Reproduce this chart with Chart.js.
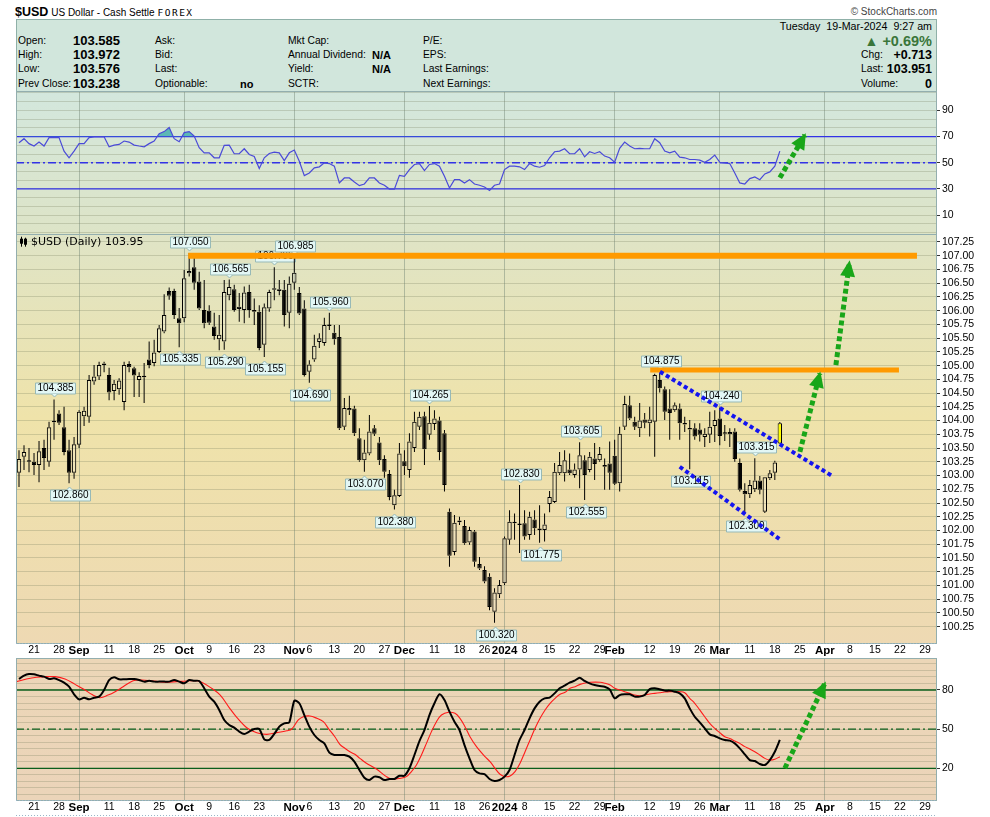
<!DOCTYPE html>
<html>
<head>
<meta charset="utf-8">
<script src="https://cdn.jsdelivr.net/npm/chart.js@4.4.1/dist/chart.umd.min.js"></script>
<style>
  body { margin: 0; background: #fff; }
  #wrap { position: relative; width: 990px; height: 817px; overflow: hidden; font-family: "Liberation Sans", Arial, sans-serif; color: #000; }
  .t { position: absolute; white-space: nowrap; line-height: 14px; height: 14px; font-size: 10.3px; }
  .v { font-weight: bold; font-size: 13px; }
  .bb { font-weight: bold; font-size: 11px; }
  .rv { font-weight: bold; font-size: 12.5px; }
  #info { position: absolute; left: 16px; top: 19px; width: 921px; height: 73px; box-sizing: border-box; border: 1px solid #8fb0a8; background: #d1e6dc; }
  canvas { position: absolute; left: 0; }
</style>
</head>
<body>
<div id="wrap">
  <div class="t" style="left:15px;top:5px;"><span style="font-weight:bold;font-size:12.5px">$USD</span> <span style="font-size:10px">US Dollar - Cash Settle</span> <span style="font-family:'DejaVu Sans Mono';font-size:9.5px;letter-spacing:1.5px">FOREX</span></div>
  <div class="t" style="right:53px;top:5px;font-size:10px;color:#444">© StockCharts.com</div>

  <div id="info"></div>
  <!-- 1열 -->
  <div class="t" style="left:18px;top:34px">Open:</div>
  <div class="t" style="left:18px;top:48px">High:</div>
  <div class="t" style="left:18px;top:62px">Low:</div>
  <div class="t" style="left:18px;top:77px">Prev Close:</div>
  <div class="t v" style="left:73px;top:34px">103.585</div>
  <div class="t v" style="left:73px;top:48px">103.972</div>
  <div class="t v" style="left:73px;top:62px">103.576</div>
  <div class="t v" style="left:73px;top:77px">103.238</div>
  <!-- 2열 -->
  <div class="t" style="left:155px;top:34px">Ask:</div>
  <div class="t" style="left:155px;top:48px">Bid:</div>
  <div class="t" style="left:155px;top:62px">Last:</div>
  <div class="t" style="left:155px;top:77px">Optionable:</div>
  <div class="t bb" style="left:240px;top:77px">no</div>
  <!-- 3열 -->
  <div class="t" style="left:288px;top:34px">Mkt Cap:</div>
  <div class="t" style="left:288px;top:48px">Annual Dividend:</div>
  <div class="t" style="left:288px;top:62px">Yield:</div>
  <div class="t" style="left:288px;top:77px">SCTR:</div>
  <div class="t bb" style="left:372px;top:48px">N/A</div>
  <div class="t bb" style="left:372px;top:62px">N/A</div>
  <!-- 4열 -->
  <div class="t" style="left:423px;top:34px">P/E:</div>
  <div class="t" style="left:423px;top:48px">EPS:</div>
  <div class="t" style="left:423px;top:62px">Last Earnings:</div>
  <div class="t" style="left:423px;top:77px">Next Earnings:</div>
  <!-- 오른쪽 요약 -->
  <div class="t" style="right:58px;top:19px;font-size:10.7px">Tuesday&nbsp;&nbsp;19-Mar-2024&nbsp;&nbsp;9:27 am</div>
  <div class="t" style="right:58px;top:33px;height:16px;line-height:16px;font-weight:bold;font-size:14.5px;color:#3a763a"><span style="font-size:14px">&#9650;</span> +0.69%</div>
  <div class="t" style="left:861px;top:48px">Chg:</div>
  <div class="t rv" style="right:58px;top:48px">+0.713</div>
  <div class="t" style="left:861px;top:62px">Last:</div>
  <div class="t rv" style="right:58px;top:62px">103.951</div>
  <div class="t" style="left:861px;top:77px">Volume:</div>
  <div class="t rv" style="right:58px;top:77px">0</div>

  <canvas id="rsi" width="990" height="146" style="top:89px"></canvas>
  <canvas id="price" width="990" height="428" style="top:232px"></canvas>
  <canvas id="stoch" width="990" height="161" style="top:656px"></canvas>
</div>

<script>
// ===== 데이터 =====
// x축은 거래일 번호: 0 = 2023-08-21 (월), 주말/12-25/01-01 제외
const FIRST_DAY = -3;

const opens = [
  103.05, 103.34, 103.26, 103.25, 103.19, 103.50, 103.25, 103.99, 104.13, 103.88,
  103.46, 103.05, 103.56, 104.08, 104.07, 104.71, 104.80, 105.01, 104.83, 104.54,
  104.57, 104.34, 105.03, 104.95, 104.74, 104.81, 105.11, 105.05, 105.25, 105.62,
  106.36, 106.36, 105.86, 105.86, 106.68, 106.79, 106.53, 106.01, 106.00, 105.71,
  105.48, 105.44, 106.28, 106.39, 106.07, 106.01, 106.34, 106.01, 105.98, 105.38,
  106.04, 106.41, 106.39, 106.38, 105.96, 106.51, 106.32, 106.04, 104.89, 105.11,
  105.43, 105.41, 105.74, 105.60, 105.52, 103.89, 104.19, 104.22, 103.68, 103.28,
  103.40, 103.86, 103.60, 103.30, 103.03, 102.46, 102.63, 103.26, 103.10, 103.50,
  103.89, 104.08, 103.74, 103.94, 104.00, 103.77, 102.34, 101.61, 102.18, 102.08,
  101.78, 101.98, 101.39, 101.28, 101.16, 100.52, 100.84, 101.04, 101.83, 102.15,
  102.12, 102.13, 101.92, 102.20, 102.03, 102.01, 102.48, 102.52, 103.04, 103.04,
  103.11, 103.01, 103.11, 103.28, 103.10, 103.31, 103.28, 103.16, 103.22, 103.36,
  102.86, 103.89, 104.28, 103.98, 103.86, 104.02, 103.95, 103.98, 104.74, 104.57,
  104.22, 104.19, 104.22, 103.95, 103.86, 103.86, 103.84, 103.70, 103.74, 103.90,
  104.04, 103.77, 103.79, 103.80, 103.23, 102.72, 102.66, 102.75, 102.91, 102.34,
  102.95, 103.05, 103.585
];
const highs = [
  103.46, 103.55, 103.50, 103.41, 103.63, 103.65, 103.98, 104.385, 104.19, 104.25,
  103.65, 103.70, 104.19, 104.25, 104.83, 105.01, 105.07, 105.07, 104.96, 104.74,
  104.77, 105.07, 105.08, 104.98, 104.88, 105.05, 105.44, 105.47, 105.74, 106.30,
  106.42, 106.40, 106.05, 106.74, 107.05, 106.96, 106.71, 106.56, 106.10, 105.96,
  105.92, 106.56, 106.565, 106.47, 106.32, 106.44, 106.47, 106.22, 106.10, 106.13,
  106.38, 106.79, 106.56, 106.56, 106.62, 106.985, 106.43, 106.19, 105.10, 105.56,
  105.59, 105.87, 105.96, 105.74, 105.74, 104.41, 104.45, 104.27, 103.86, 103.65,
  104.10, 103.92, 103.70, 103.37, 103.10, 102.74, 103.59, 103.46, 103.77, 104.16,
  104.16, 104.16, 104.265, 104.19, 104.07, 103.83, 102.40, 102.28, 102.25, 102.19,
  102.07, 102.01, 101.52, 101.35, 101.22, 100.95, 101.10, 101.89, 102.37, 102.31,
  102.83, 102.37, 102.34, 102.37, 102.46, 102.31, 102.72, 103.23, 103.43, 103.46,
  103.40, 103.22, 103.605, 103.37, 103.43, 103.59, 103.52, 103.31, 103.62, 103.65,
  103.89, 104.45, 104.45, 104.07, 104.32, 104.14, 104.25, 104.85, 104.875, 104.62,
  104.57, 104.33, 104.31, 104.07, 104.01, 103.95, 103.95, 103.86, 104.16, 104.19,
  104.24, 103.92, 103.86, 103.86, 103.31, 102.86, 102.92, 103.315, 102.99, 102.97,
  103.10, 103.27, 103.972
];
const lows = [
  102.79, 103.10, 103.06, 103.01, 102.88, 103.10, 103.16, 103.65, 103.92, 103.37,
  102.86, 102.94, 103.50, 103.90, 103.96, 104.65, 104.74, 104.88, 104.37, 104.37,
  104.47, 104.19, 104.88, 104.43, 104.43, 104.32, 104.95, 104.99, 105.23, 105.59,
  106.20, 105.85, 105.335, 105.79, 106.62, 106.38, 106.01, 105.68, 105.74, 105.47,
  105.28, 105.29, 106.19, 105.98, 105.80, 105.77, 105.87, 105.74, 105.28, 105.155,
  105.98, 106.19, 106.28, 105.71, 105.68, 106.38, 105.92, 104.80, 104.69, 105.07,
  105.32, 105.36, 105.65, 105.38, 103.83, 103.83, 104.10, 103.72, 103.25, 103.07,
  103.37, 103.72, 103.19, 102.96, 102.55, 102.38, 102.61, 103.01, 102.96, 103.43,
  103.83, 103.19, 103.65, 103.83, 103.28, 102.71, 101.34, 101.55, 102.10, 101.74,
  101.74, 101.34, 101.28, 101.04, 100.55, 100.32, 100.77, 101.01, 101.74, 101.83,
  101.59, 101.83, 101.83, 101.92, 101.775, 101.80, 102.33, 102.50, 103.01, 102.89,
  103.01, 102.96, 102.77, 102.555, 103.06, 102.92, 103.25, 102.74, 102.74, 102.83,
  102.71, 103.83, 104.01, 103.83, 103.70, 103.86, 103.71, 103.34, 104.51, 104.01,
  103.65, 104.16, 103.65, 103.79, 103.115, 103.65, 103.62, 103.52, 103.59, 103.61,
  103.55, 103.63, 103.52, 103.25, 102.71, 102.30, 102.59, 102.70, 102.66, 102.32,
  102.92, 102.92, 103.576
];
const closes = [
  103.30, 103.43, 103.25, 103.19, 103.44, 103.32, 103.88, 103.97, 103.96, 103.43,
  103.05, 103.57, 104.16, 104.18, 104.74, 104.80, 105.01, 105.04, 104.51, 104.67,
  104.73, 105.01, 104.97, 104.82, 104.81, 104.79, 105.01, 105.24, 105.68, 105.92,
  106.27, 105.92, 105.77, 106.59, 106.72, 106.51, 106.04, 105.77, 105.78, 105.54,
  105.56, 106.34, 106.43, 106.01, 106.03, 106.33, 106.01, 105.98, 105.32, 106.06,
  106.34, 106.38, 106.36, 105.92, 106.49, 106.69, 105.95, 104.83, 105.02, 105.36,
  105.50, 105.74, 105.72, 105.48, 103.86, 104.23, 104.23, 103.77, 103.28, 103.42,
  103.80, 103.76, 103.28, 103.07, 102.61, 102.64, 103.40, 103.17, 103.62, 103.98,
  104.07, 103.48, 103.96, 104.04, 103.43, 102.83, 101.54, 102.14, 102.15, 101.77,
  102.01, 101.43, 101.31, 101.07, 100.61, 100.87, 101.01, 101.86, 102.16, 102.13,
  102.10, 101.89, 102.25, 102.04, 102.01, 102.11, 102.61, 103.07, 103.19, 103.28,
  103.04, 103.11, 103.37, 103.01, 103.34, 103.21, 103.39, 103.19, 103.05, 102.85,
  103.76, 104.30, 104.04, 103.89, 104.00, 103.96, 104.02, 104.83, 104.59, 104.16,
  104.14, 104.28, 103.95, 103.93, 103.84, 103.71, 103.74, 103.76, 103.89, 104.01,
  103.72, 103.76, 103.75, 103.30, 102.74, 102.66, 102.83, 102.91, 102.74, 102.97,
  103.04, 103.238, 103.951
];

// RSI(14), 같은 거래일 순서
const rsiValues = [
  65.3, 68.4, 64.6, 62.8, 65.8, 62.8, 69.2, 69.2, 69.2, 58.9,
  53.8, 58.9, 64.6, 64.6, 69.2, 69.8, 69.8, 69.8, 62.2, 63.5,
  64.0, 66.6, 65.8, 63.5, 62.8, 62.2, 64.6, 66.6, 72.2, 73.8,
  76.9, 68.4, 66.1, 73.0, 73.8, 70.4, 61.5, 57.6, 57.6, 53.8,
  53.8, 63.3, 63.5, 56.9, 56.9, 60.7, 56.3, 54.8, 45.6, 53.8,
  57.1, 58.1, 57.6, 51.7, 57.6, 59.7, 51.2, 40.2, 42.2, 46.1,
  46.9, 49.9, 49.4, 47.4, 34.6, 38.4, 38.4, 35.3, 32.5, 33.8,
  38.4, 38.4, 34.6, 32.8, 29.9, 29.9, 40.4, 39.7, 44.8, 48.7,
  49.4, 44.0, 48.7, 49.4, 47.4, 39.7, 30.7, 37.1, 37.1, 34.6,
  37.1, 33.8, 32.8, 31.5, 28.9, 32.8, 33.8, 44.8, 47.4, 47.4,
  46.9, 44.8, 49.4, 47.4, 46.6, 47.9, 53.8, 58.4, 58.9, 60.7,
  56.9, 56.9, 60.7, 54.5, 58.4, 57.1, 58.4, 55.1, 53.8, 50.4,
  61.0, 65.8, 62.8, 60.7, 61.0, 60.7, 60.7, 68.4, 65.3, 58.9,
  57.6, 58.9, 54.3, 53.8, 52.5, 52.5, 52.0, 50.4, 52.5, 55.8,
  50.4, 49.9, 49.4, 42.2, 34.6, 33.8, 37.9, 39.2, 37.1, 41.5,
  43.0, 47.4, 58.9
];

// Slow Stochastic %K, 같은 거래일 순서
const stochK = [
  88.4, 91.0, 92.2, 92.0, 91.0, 90.2, 88.4, 88.9, 87.6, 85.6,
  82.5, 76.7, 72.8, 74.1, 72.8, 74.1, 74.9, 80.0, 87.6, 89.7,
  88.2, 88.2, 88.4, 88.4, 87.6, 86.4, 87.1, 86.4, 86.4, 86.4,
  86.4, 87.6, 86.4, 85.1, 87.6, 87.1, 86.9, 81.3, 74.9, 71.0,
  64.7, 57.0, 53.2, 51.1, 48.1, 46.3, 48.1, 50.1, 50.1, 42.2,
  41.7, 46.3, 51.9, 54.4, 55.2, 71.8, 69.8, 60.8, 51.9, 45.5,
  41.7, 39.1, 32.0, 30.2, 30.2, 30.2, 28.9, 25.1, 18.7, 12.8,
  11.0, 13.6, 13.1, 11.0, 11.8, 11.8, 14.3, 14.3, 20.0, 30.2,
  40.9, 49.3, 60.8, 69.8, 76.7, 72.3, 63.4, 55.7, 49.3, 37.8,
  27.6, 18.7, 16.1, 15.6, 11.8, 10.2, 11.0, 13.6, 18.7, 30.2,
  41.7, 49.3, 58.3, 65.9, 71.0, 73.6, 74.1, 77.4, 81.3, 83.3,
  85.6, 87.1, 89.4, 86.9, 85.1, 83.8, 83.0, 82.5, 80.5, 73.6,
  76.1, 76.7, 76.7, 74.9, 74.9, 76.1, 80.7, 81.3, 80.5, 79.5,
  79.5, 78.7, 77.4, 73.6, 65.9, 59.5, 55.2, 50.6, 46.0, 44.7,
  42.9, 41.7, 41.2, 39.1, 35.3, 30.7, 26.3, 25.6, 23.3, 22.5,
  26.3, 32.7, 41.7
];

// %D 는 읽은 위치(거래일, 소수) 그대로
const stochDDay = [
  -3.5, -1.5, 0.5, 2.5, 4.2, 6.2, 8.2, 10.2, 11.5, 13.2,
  14.8, 16.2, 17.8, 19.8, 21.5, 23.2, 24.8, 26.5, 28.5, 30.5,
  32.5, 33.5, 35.2, 37.2, 39.1, 40.5, 42.5, 44.5, 46.5, 48.5,
  50.5, 51.5, 52.8, 53.8, 55.1, 56.5, 57.8, 58.8, 60.1, 61.1,
  62.1, 63.1, 64.1, 65.1, 66.4, 68.4, 70.4, 71.4, 73.1, 74.4,
  75.4, 76.4, 77.4, 78.4, 79.4, 80.4, 81.4, 82.8, 84.1, 85.1,
  86.1, 87.1, 88.4, 90.1, 91.1, 92.1, 93.1, 94.1, 95.1, 96.1,
  97.1, 98.1, 99.1, 100.1, 101.1, 102.1, 103.1, 104.1, 105.1, 106.1,
  107.1, 108.1, 109.1, 110.1, 111.1, 113.1, 114.1, 115.1, 116, 117,
  118, 119, 120, 121, 122, 123, 124, 125, 126, 127,
  128, 129, 130, 131, 132, 133, 134, 135, 136, 137,
  138, 139, 140, 141, 142, 143, 144, 145, 146, 147,
  148, 149
];
const stochD = [
  86.4, 88.4, 89.7, 90.2, 90.2, 88.4, 84.3, 80.0, 76.7, 74.1,
  76.1, 78.7, 82.5, 87.1, 87.6, 87.1, 86.4, 85.9, 86.4, 86.9,
  87.1, 85.9, 82.0, 76.1, 65.9, 59.0, 51.1, 47.3, 46.0, 47.3,
  48.8, 50.1, 57.0, 59.5, 60.1, 58.3, 55.7, 50.6, 44.2, 38.3,
  35.3, 32.7, 30.7, 27.6, 23.8, 19.4, 13.6, 11.8, 12.3, 13.6,
  17.4, 22.5, 30.2, 39.1, 48.1, 55.7, 60.8, 62.9, 62.1, 58.3,
  51.9, 44.2, 36.6, 28.9, 25.1, 20.0, 15.4, 13.6, 14.1, 17.4,
  23.8, 32.7, 41.7, 50.6, 58.3, 64.7, 69.8, 73.6, 76.7, 78.2,
  81.3, 82.5, 84.3, 85.3, 85.9, 85.9, 85.1, 83.8, 81.3, 80.0,
  78.7, 77.4, 76.1, 75.6, 76.1, 76.9, 77.4, 77.9, 78.4, 78.7,
  78.7, 78.7, 77.9, 73.6, 69.8, 64.7, 59.5, 54.4, 50.6, 47.3,
  44.2, 42.9, 40.9, 39.1, 36.6, 34.8, 32.7, 30.2, 27.6, 26.3,
  26.9, 28.9
];

// x축 눈금 (거래일 위치, 글자)
const tickDay  = [0, 5, 9, 15, 20, 25, 30, 35, 40, 45, 52, 55, 60, 65, 70, 74, 80, 85, 90, 94,
                  98, 103, 108, 113, 116, 123, 128, 133, 137, 143, 148, 153, 158, 163, 168, 173, 178];
const tickText = ['21', '28', 'Sep', '11', '18', '25', 'Oct', '9', '16', '23', 'Nov', '6', '13', '20', '27', 'Dec', '11', '18', '26', '2024',
                  '8', '15', '22', '29', 'Feb', '12', '19', '26', 'Mar', '11', '18', '25', 'Apr', '8', '15', '22', '29'];
const monthTickText = ['Sep', 'Oct', 'Nov', 'Dec', '2024', 'Feb', 'Mar', 'Apr'];

// y축 눈금
const priceTicks = [100.25, 100.5, 100.75, 101, 101.25, 101.5, 101.75, 102, 102.25, 102.5, 102.75, 103, 103.25, 103.5,
                    103.75, 104, 104.25, 104.5, 104.75, 105, 105.25, 105.5, 105.75, 106, 106.25, 106.5, 106.75, 107, 107.25];
const rsiTickLabels = [10, 30, 50, 70, 90];
const stochTickLabels = [20, 50, 80];

// 고점/저점 표시 (거래일, 'hi' | 'lo')
const calloutDay  = [4, 7, 29, 31, 38, 39, 46, 48, 52, 55, 59, 66, 72, 79, 92, 97, 101, 109, 110, 125, 131, 137, 142, 144];
const calloutSide = ['hi', 'lo', 'lo', 'hi', 'lo', 'hi', 'lo', 'hi', 'hi', 'lo', 'hi', 'lo', 'lo', 'hi', 'lo', 'hi', 'lo', 'hi', 'lo', 'hi', 'lo', 'hi', 'lo', 'hi'];

// 손으로 그린 선들 ([거래일, 값])
const orangeTop   = [[30.8, 107.0], [176.4, 107.0]];
const orangeMid   = [[123.1, 104.92], [172.8, 104.92]];
const channelUp   = [[125.05, 104.89], [159.7, 102.98]];
const channelLow  = [[129.0, 103.16], [149.0, 101.84]];
const priceArrow1 = [[153.0, 103.43], [157.0, 104.86]];
const priceArrow2 = [[160.2, 105.01], [162.9, 106.88]];
const rsiArrow    = [[149.0, 38.5], [154.0, 71.2]];
const stochArrow  = [[150.0, 20.0], [158.0, 85.1]];

// ===== 공통 설정 =====
const FONT = '"Liberation Sans", Arial, sans-serif';
const X_MIN = -3.6, X_MAX = 180.4;
const GRID_H = 'rgba(120,125,95,0.28)';
const GRID_V = 'rgba(110,130,115,0.45)';
const GREEN = '#19a619';
const RSI_BLUE = '#3232e6';
const STO_GREEN = '#0b5e1b';

Chart.defaults.font.family = FONT;

const days = opens.map((_, i) => FIRST_DAY + i);
const pts = arr => arr.map(([x, y]) => ({ x, y }));

// 축 라벨 때문에 차트 영역이 줄지 않도록
function noPad(s) { s.paddingTop = 0; s.paddingBottom = 0; s.paddingLeft = 0; s.paddingRight = 0; }

function xScale(showLabels) {
  return {
    type: 'linear', min: X_MIN, max: X_MAX, offset: false,
    afterBuildTicks: s => { s.ticks = tickDay.map(v => ({ value: v })); },
    afterFit: s => { s.height = showLabels ? 15 : 0; noPad(s); },
    border: { display: false },
    grid: {
      offset: false, drawTicks: false, lineWidth: 1,
      color: c => (c.tick && monthTickText.includes(tickText[tickDay.indexOf(c.tick.value)])) ? GRID_V : 'transparent'
    },
    ticks: {
      display: showLabels, autoSkip: false, maxRotation: 0, minRotation: 0, padding: 1, color: '#000',
      callback: (v, i) => tickText[i],
      font: c => ({ family: FONT, size: monthTickText.includes(tickText[c.index]) ? 11.5 : 10.5, weight: monthTickText.includes(tickText[c.index]) ? 'bold' : 'normal' })
    }
  };
}

function yScale(min, max, gridVals, labelOf) {
  return {
    type: 'linear', position: 'right', min, max,
    afterBuildTicks: s => { s.ticks = gridVals.map(v => ({ value: v })); },
    afterFit: s => { s.width = 53; noPad(s); },
    border: { display: false },
    grid: { color: GRID_H, lineWidth: 1, drawTicks: true, tickLength: 3, tickColor: c => labelOf(c.tick.value) ? '#333' : 'transparent' },
    ticks: { autoSkip: false, padding: 2, color: '#000', font: { family: FONT, size: 10.5 }, callback: v => labelOf(v) || '' }
  };
}

function levelLine(v, color, dash, width) {
  return { type: 'line', data: [{ x: X_MIN, y: v }, { x: X_MAX, y: v }], borderColor: color, borderWidth: width || 1.3,
           borderDash: dash, pointRadius: 0, fill: false, order: 8 };
}

function dottedArrow(arr, color) {
  return { type: 'line', data: pts(arr), borderColor: color, borderWidth: 5, borderDash: [5, 3], borderCapStyle: 'butt',
           pointRadius: 0, fill: false, arrow: true, order: 0 };
}

// 패널 배경, 테두리, 날짜띠
const panelBg = {
  id: 'panelBg',
  beforeDraw(chart, args, opts) {
    const { ctx, chartArea: a } = chart;
    const g = ctx.createLinearGradient(0, a.top, 0, a.bottom);
    opts.stops.forEach(([p, c]) => g.addColorStop(p, c));
    ctx.save();
    ctx.fillStyle = g;
    ctx.fillRect(a.left, a.top, a.right - a.left, a.bottom - a.top);
    ctx.restore();
  },
  afterDraw(chart, args, opts) {
    const { ctx, chartArea: a } = chart;
    ctx.save();
    ctx.strokeStyle = '#93aeae';
    ctx.lineWidth = 1;
    ctx.strokeRect(a.left + 0.5, a.top + 0.5, a.right - a.left - 1, a.bottom - a.top);
    if (opts.band) {
      ctx.strokeStyle = '#9ab6c8';
      ctx.setLineDash([1, 2]);
      ctx.beginPath();
      ctx.moveTo(a.left, a.bottom + 0.5); ctx.lineTo(a.right, a.bottom + 0.5);
      ctx.moveTo(a.left, a.bottom + 15.5); ctx.lineTo(a.right, a.bottom + 15.5);
      ctx.stroke();
    }
    ctx.restore();
  }
};

const arrowHeads = {
  id: 'arrowHeads',
  afterDatasetsDraw(chart) {
    const ctx = chart.ctx;
    chart.data.datasets.forEach((ds, i) => {
      if (!ds.arrow) return;
      const p = chart.getDatasetMeta(i).data;
      const a = p[p.length - 2], b = p[p.length - 1];
      const ang = Math.atan2(b.y - a.y, b.x - a.x);
      ctx.save();
      ctx.fillStyle = ds.borderColor;
      ctx.translate(b.x, b.y);
      ctx.rotate(ang);
      ctx.beginPath();
      ctx.moveTo(2, 0); ctx.lineTo(-14, -7.5); ctx.lineTo(-14, 7.5); ctx.closePath();
      ctx.fill();
      ctx.restore();
    });
  }
};

// 고점/저점 말풍선
const callouts = {
  id: 'callouts',
  beforeDatasetsDraw(chart) {
    const { ctx, scales: { x, y } } = chart;
    ctx.save();
    ctx.font = '10px ' + FONT;
    ctx.textAlign = 'center';
    ctx.textBaseline = 'middle';
    calloutDay.forEach((d, k) => {
      const i = d - FIRST_DAY;
      const hi = calloutSide[k] === 'hi';
      const v = hi ? highs[i] : lows[i];
      const txt = v.toFixed(3);
      const px = Math.round(x.getPixelForValue(d)) + 0.5;
      const py = y.getPixelForValue(v);
      const w = Math.round(ctx.measureText(txt).width) + 4, h = 11;
      const cy = Math.round(hi ? py - 11 : py + 12);
      const l = Math.round(px - w / 2) + 0.5, t = cy - h / 2 + 0.5;
      ctx.fillStyle = '#e3f7f5';
      ctx.strokeStyle = '#97b9b7';
      ctx.lineWidth = 1;
      ctx.beginPath();
      ctx.rect(l, t, w, h);
      ctx.fill(); ctx.stroke();
      ctx.beginPath();
      if (hi) { ctx.moveTo(px - 3, t + h); ctx.lineTo(px, t + h + 3); ctx.lineTo(px + 3, t + h); }
      else    { ctx.moveTo(px - 3, t);     ctx.lineTo(px, t - 3);     ctx.lineTo(px + 3, t); }
      ctx.fill(); ctx.stroke();
      ctx.fillStyle = '#000';
      ctx.fillText(txt, l + w / 2, cy + 0.5);
    });
    ctx.restore();
  }
};

const priceTitle = {
  id: 'priceTitle',
  afterDraw(chart) {
    const { ctx, chartArea: a } = chart;
    const cy = a.top + 7.7;
    ctx.save();
    // 작은 캔들 아이콘
    ctx.fillStyle = '#000'; ctx.strokeStyle = '#000'; ctx.lineWidth = 1;
    ctx.beginPath();
    ctx.moveTo(21.5, cy - 5); ctx.lineTo(21.5, cy + 5);
    ctx.moveTo(25.5, cy - 4); ctx.lineTo(25.5, cy + 5);
    ctx.stroke();
    ctx.fillRect(20, cy - 3, 3, 5);
    ctx.strokeRect(24.5, cy - 2.5, 2, 5);
    ctx.font = '11px "DejaVu Sans", sans-serif';
    ctx.textBaseline = 'middle';
    ctx.fillText('$USD (Daily) 103.95', 31, cy);
    ctx.restore();
  }
};

const common = {
  responsive: false, animation: false, devicePixelRatio: 1, events: []
};

// ===== RSI =====
const rsiPts = rsiValues.map((v, i) => ({ x: days[i], y: v }));
const rsiGrid = [];
for (let k = -5; k <= 11; k++) rsiGrid.push(30 + k * 20 / 3);
const TEAL = 'rgba(70,175,175,0.85)';

new Chart(document.getElementById('rsi'), {
  type: 'line',
  data: {
    datasets: [
      dottedArrow(rsiArrow, GREEN),
      { data: rsiPts, borderColor: '#4a4ad8', borderWidth: 1.2, pointRadius: 0, tension: 0, order: 1,
        fill: { target: { value: 70 }, above: TEAL, below: 'transparent' } },
      { data: rsiPts, borderColor: 'transparent', borderWidth: 0, pointRadius: 0, tension: 0, order: 2,
        fill: { target: { value: 30 }, above: 'transparent', below: TEAL } },
      levelLine(70, RSI_BLUE, []),
      levelLine(50, RSI_BLUE, [8, 3, 2, 3]),
      levelLine(30, RSI_BLUE, [])
    ]
  },
  options: {
    ...common,
    layout: { autoPadding: false, padding: { left: 16, right: 0, top: 2, bottom: 1 } },
    scales: {
      x: xScale(false),
      y: yScale(-4.4, 104.8, rsiGrid, v => rsiTickLabels.find(t => Math.abs(t - v) < 0.01))
    },
    plugins: { legend: { display: false }, tooltip: { enabled: false },
               panelBg: { stops: [[0, '#d3e7dd'], [1, '#dde4c7']], band: false } }
  },
  plugins: [panelBg, arrowHeads]
});

// ===== 가격 캔들 =====
const bodyData  = days.map((d, i) => ({ x: d, y: [opens[i], closes[i]] }));
const upperWick = days.map((d, i) => ({ x: d, y: [Math.max(opens[i], closes[i]), highs[i]] }));
const lowerWick = days.map((d, i) => ({ x: d, y: [lows[i], Math.min(opens[i], closes[i])] }));
const lastIdx = days.length - 1;

new Chart(document.getElementById('price'), {
  type: 'bar',
  data: {
    datasets: [
      dottedArrow(priceArrow1, GREEN),
      dottedArrow(priceArrow2, GREEN),
      { type: 'line', data: pts(channelUp), borderColor: '#1414f0', borderWidth: 4, borderDash: [4, 3], borderCapStyle: 'butt', pointRadius: 0, fill: false, order: 1 },
      { type: 'line', data: pts(channelLow), borderColor: '#1414f0', borderWidth: 4, borderDash: [4, 3], borderCapStyle: 'butt', pointRadius: 0, fill: false, order: 1 },
      { type: 'line', data: pts(orangeTop), borderColor: '#ff9a00', borderWidth: 6, pointRadius: 0, fill: false, order: 2 },
      { type: 'line', data: pts(orangeMid), borderColor: '#ff9a00', borderWidth: 5, pointRadius: 0, fill: false, order: 2 },
      { data: bodyData, barThickness: 4.4, grouped: false, minBarLength: 1.5, borderSkipped: false, inflateAmount: 0,
        borderWidth: 1, borderColor: '#000', order: 3,
        backgroundColor: c => c.dataIndex === lastIdx ? '#ffff00' : (closes[c.dataIndex] >= opens[c.dataIndex] ? 'rgba(255,255,255,0.15)' : '#000') },
      { data: upperWick, barThickness: 1, grouped: false, inflateAmount: 0, borderWidth: 0, backgroundColor: '#000', order: 4 },
      { data: lowerWick, barThickness: 1, grouped: false, inflateAmount: 0, borderWidth: 0, backgroundColor: '#000', order: 4 }
    ]
  },
  options: {
    ...common,
    layout: { autoPadding: false, padding: { left: 16, right: 0, top: 2, bottom: 2 } },
    scales: {
      x: xScale(true),
      y: yScale(99.953, 107.395, priceTicks, v => priceTicks.some(t => Math.abs(t - v) < 1e-6) ? v.toFixed(2) : '')
    },
    plugins: { legend: { display: false }, tooltip: { enabled: false },
               panelBg: { stops: [[0, '#dfe4c6'], [0.45, '#efe3aa'], [1, '#eed9b3']], band: true } }
  },
  plugins: [panelBg, callouts, arrowHeads, priceTitle]
});

// ===== Slow Stochastic =====
const stochGrid = [];
for (let v = 0; v <= 100; v += 5) stochGrid.push(v);

new Chart(document.getElementById('stoch'), {
  type: 'line',
  data: {
    datasets: [
      dottedArrow(stochArrow, GREEN),
      { data: stochK.map((v, i) => ({ x: days[i], y: v })), borderColor: '#000', borderWidth: 2, pointRadius: 0, tension: 0.25, fill: false, order: 1 },
      { data: stochDDay.map((d, i) => ({ x: d, y: stochD[i] })), borderColor: '#ff1a1a', borderWidth: 1.1, pointRadius: 0, tension: 0.35, fill: false, order: 2 },
      levelLine(80, STO_GREEN, []),
      levelLine(50, STO_GREEN, [8, 3, 2, 3]),
      levelLine(20, STO_GREEN, [])
    ]
  },
  options: {
    ...common,
    layout: { autoPadding: false, padding: { left: 16, right: 0, top: 2, bottom: 2 } },
    scales: {
      x: xScale(true),
      y: yScale(-4.3, 104.5, stochGrid, v => stochTickLabels.includes(v) ? String(v) : '')
    },
    plugins: { legend: { display: false }, tooltip: { enabled: false },
               panelBg: { stops: [[0, '#ecd6b7'], [1, '#ebd4b9']], band: true } }
  },
  plugins: [panelBg, arrowHeads]
});
</script>
</body>
</html>
